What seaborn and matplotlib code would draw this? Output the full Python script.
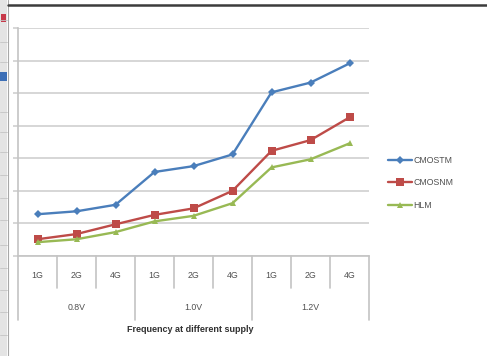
import numpy as np
import pandas as pd
import matplotlib
matplotlib.use("Agg")
import matplotlib.pyplot as plt
from matplotlib.lines import Line2D
from matplotlib.patches import Rectangle
import seaborn as sns

# Supply voltages and clock frequencies on the two-level category axis
supplies = ["0.8V", "1.0V", "1.2V"]
freqs = ["1G", "2G", "4G"]

# Series values, one per supply/frequency point
cmostm = [1.27, 1.36, 1.56, 2.57, 2.75, 3.11, 5.02, 5.32, 5.91]
cmosnm = [0.50, 0.66, 0.96, 1.25, 1.45, 1.99, 3.22, 3.55, 4.25]
hlm = [0.41, 0.50, 0.72, 1.05, 1.22, 1.61, 2.71, 2.96, 3.45]

series_names = ["CMOSTM", "CMOSNM", "HLM"]
series_values = [cmostm, cmosnm, hlm]
colors = ["#4a7ebb", "#be4b48", "#98b954"]
markers = ["D", "s", "^"]
marker_sizes = [4.2, 5.2, 5.0]

x_title = "Frequency at different supply"

points = [(s, f) for s in supplies for f in freqs]
rows = []
for name, vals in zip(series_names, series_values):
    for i, ((s, f), v) in enumerate(zip(points, vals)):
        rows.append({"series": name, "pos": i, "supply": s, "freq": f, "value": v})
df = pd.DataFrame(rows)

sns.set_theme(style="white")
plt.rcParams["font.family"] = ["Liberation Sans", "DejaVu Sans"]

W, H = 487, 356
fig = plt.figure(figsize=(W / 100, H / 100), dpi=100)
fig.patch.set_facecolor("white")

# window chrome: toolbar strip on the left and dark frame on top
fig.add_artist(Rectangle((0, 0), 7 / W, 1, transform=fig.transFigure,
                         facecolor="#e4e4e4", edgecolor="none"))
fig.add_artist(Line2D([7.5 / W, 7.5 / W], [0, 1], transform=fig.transFigure,
                      color="#a8a8a8", lw=0.8))
for yb in [20, 42, 62, 112, 132, 152, 175, 198, 220, 245, 268, 290, 312, 335]:
    fig.add_artist(Line2D([0, 7 / W], [1 - yb / H, 1 - yb / H], transform=fig.transFigure,
                          color="#c4c4c4", lw=0.6))
fig.add_artist(Rectangle((0, 1 - 81 / H), 7 / W, 9 / H, transform=fig.transFigure,
                         facecolor="#3d6fb6", edgecolor="none"))
fig.add_artist(Rectangle((1 / W, 1 - 22 / H), 5 / W, 8 / H, transform=fig.transFigure,
                         facecolor="#c8394a", edgecolor="none"))
fig.add_artist(Line2D([8 / W, 1], [1 - 5 / H, 1 - 5 / H], transform=fig.transFigure,
                      color="#3c3c3c", lw=1.8))

left, right, top, bottom = 18, 369, 28, 255.5
ax = fig.add_axes([left / W, 1 - bottom / H, (right - left) / W, (bottom - top) / H])

sns.lineplot(data=df, x="pos", y="value", hue="series", style="series",
             hue_order=series_names, style_order=series_names,
             palette=colors, markers=markers, dashes=False, linewidth=1.7,
             markeredgewidth=0, legend=False, ax=ax, zorder=3)
for line, ms in zip(ax.lines, marker_sizes):
    line.set_markersize(ms)

ax.set_xlim(-0.5, len(points) - 0.5)
ax.set_ylim(0, 7)
ax.set_yticks(np.arange(0, 8))
ax.yaxis.grid(True, color="#cfcfcf", lw=1.2)
ax.set_axisbelow(True)
ax.tick_params(axis="y", length=3.6, width=1.2, color="#cfcfcf", labelleft=False, left=True)
ax.tick_params(axis="x", length=0, labelbottom=False)
ax.set_xlabel("")
ax.set_ylabel("")
for side in ["top", "right"]:
    ax.spines[side].set_visible(False)
ax.spines["left"].set_color("#c4c4c4")
ax.spines["left"].set_linewidth(1.2)
ax.spines["bottom"].set_color("#c4c4c4")
ax.spines["bottom"].set_linewidth(1.2)

# two-level category axis
trans = ax.get_xaxis_transform()
span = bottom - top
short_drop = -(288 - bottom) / span
long_drop = -(320 - bottom) / span
n_f = len(freqs)
for k in range(len(points) + 1):
    drop = long_drop if k % n_f == 0 else short_drop
    ax.plot([k - 0.5, k - 0.5], [0, drop], transform=trans, color="#c4c4c4",
            lw=1.2, clip_on=False)

txt_color = "#505050"
for i, (s, f) in enumerate(points):
    ax.text(i, -(275 - bottom) / span, f, transform=trans, ha="center", va="center",
            fontsize=6.3, color=txt_color)
for g, s in enumerate(supplies):
    ax.text(g * n_f + (n_f - 1) / 2, -(308 - bottom) / span, s, transform=trans,
            ha="center", va="center", fontsize=6.3, color=txt_color)
ax.text(0.49, -(330 - bottom) / span, x_title, transform=ax.transAxes, ha="center",
        va="center", fontsize=6.5, fontweight="bold", color="#303030")

# legend on the right
handles = [Line2D([], [], color=c, marker=m, markersize=ms, markeredgewidth=0, lw=1.7)
           for c, m, ms in zip(colors, markers, marker_sizes)]
fig.legend(handles, series_names, loc="upper left",
           bbox_to_anchor=(380 / W, 1 - 148 / H), frameon=False, fontsize=6.3,
           handlelength=2.8, handletextpad=0.1, labelspacing=1.55, labelcolor=txt_color)

fig.savefig("out.png", dpi=100, facecolor="white")
